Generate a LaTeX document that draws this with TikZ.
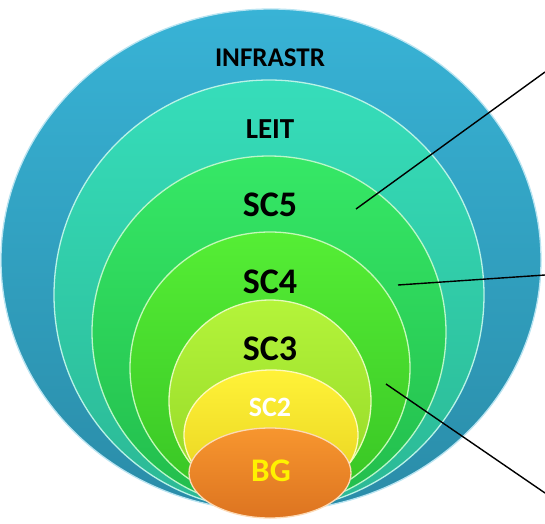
\documentclass[tikz,border=0pt]{standalone}
\usepackage{fontspec}
\setmainfont{Carlito}
\usepackage{tikz}

\definecolor{infraTop}{HTML}{38B3D6}
\definecolor{infraBot}{HTML}{2A8CA8}
\definecolor{leitTop}{HTML}{36DDBA}
\definecolor{leitBot}{HTML}{2BB894}
\definecolor{scfiveTop}{HTML}{36E866}
\definecolor{scfiveBot}{HTML}{22BC4C}
\definecolor{scfourTop}{HTML}{55EE35}
\definecolor{scfourBot}{HTML}{38C424}
\definecolor{scthreeTop}{HTML}{B4F43A}
\definecolor{scthreeBot}{HTML}{92D626}
\definecolor{sctwoTop}{HTML}{FFF238}
\definecolor{sctwoBot}{HTML}{E6D01E}
\definecolor{bgTop}{HTML}{F7962F}
\definecolor{bgBot}{HTML}{DD7420}

\begin{document}
\begin{tikzpicture}[x=1pt,y=1pt,
  layer/.style 2 args={top color=#1, bottom color=#2, draw=white!65!#1, line width=1.3pt},
  lbl/.style={font=\bfseries, inner sep=0pt},
  leader/.style={line width=1.4pt}]
\useasboundingbox (0,0) rectangle (545,523);

\path[layer={infraTop}{infraBot}] (271,263) ellipse [x radius=270, y radius=251];
\path[layer={leitTop}{leitBot}] (269,228) ellipse [x radius=215, y radius=215];
\path[layer={scfiveTop}{scfiveBot}] (269,191) ellipse [x radius=177, y radius=176];
\path[layer={scfourTop}{scfourBot}] (270,155) ellipse [x radius=140, y radius=136];
\path[layer={scthreeTop}{scthreeBot}] (270,122) ellipse [x radius=101, y radius=101];
\path[layer={sctwoTop}{sctwoBot}] (271,88) ellipse [x radius=87, y radius=65];
\path[layer={bgTop}{bgBot}] (270,50) ellipse [x radius=81, y radius=45];

\node[lbl, font=\fontsize{27}{27}\selectfont\bfseries] (infra) at (270,465) {INFRASTR};
\node[lbl, font=\fontsize{29}{29}\selectfont\bfseries] (leit) at (270,394) {LEIT};
\node[lbl, font=\fontsize{36}{36}\selectfont\bfseries] (scfive) at (270,318) {SC5};
\node[lbl, font=\fontsize{36}{36}\selectfont\bfseries] (scfour) at (270,241) {SC4};
\node[lbl, font=\fontsize{36}{36}\selectfont\bfseries] (scthree) at (270,174) {SC3};
\node[lbl, font=\fontsize{28}{28}\selectfont\bfseries, text=white] (sctwo) at (270,116) {SC2};
\node[lbl, font=\fontsize{33}{33}\selectfont\bfseries, text=yellow] (bg) at (271,52) {BG};

\coordinate (pfive) at (356,314);
\coordinate (pfour) at (398,238);
\coordinate (pthree) at (386,139);
\coordinate (efive) at (545,451);
\coordinate (efour) at (545,248);
\coordinate (ethree) at (545,30);

\draw[leader] (pfive) -- (efive);
\draw[leader] (pfour) -- (efour);
\draw[leader] (pthree) -- (ethree);
\end{tikzpicture}
\end{document}
